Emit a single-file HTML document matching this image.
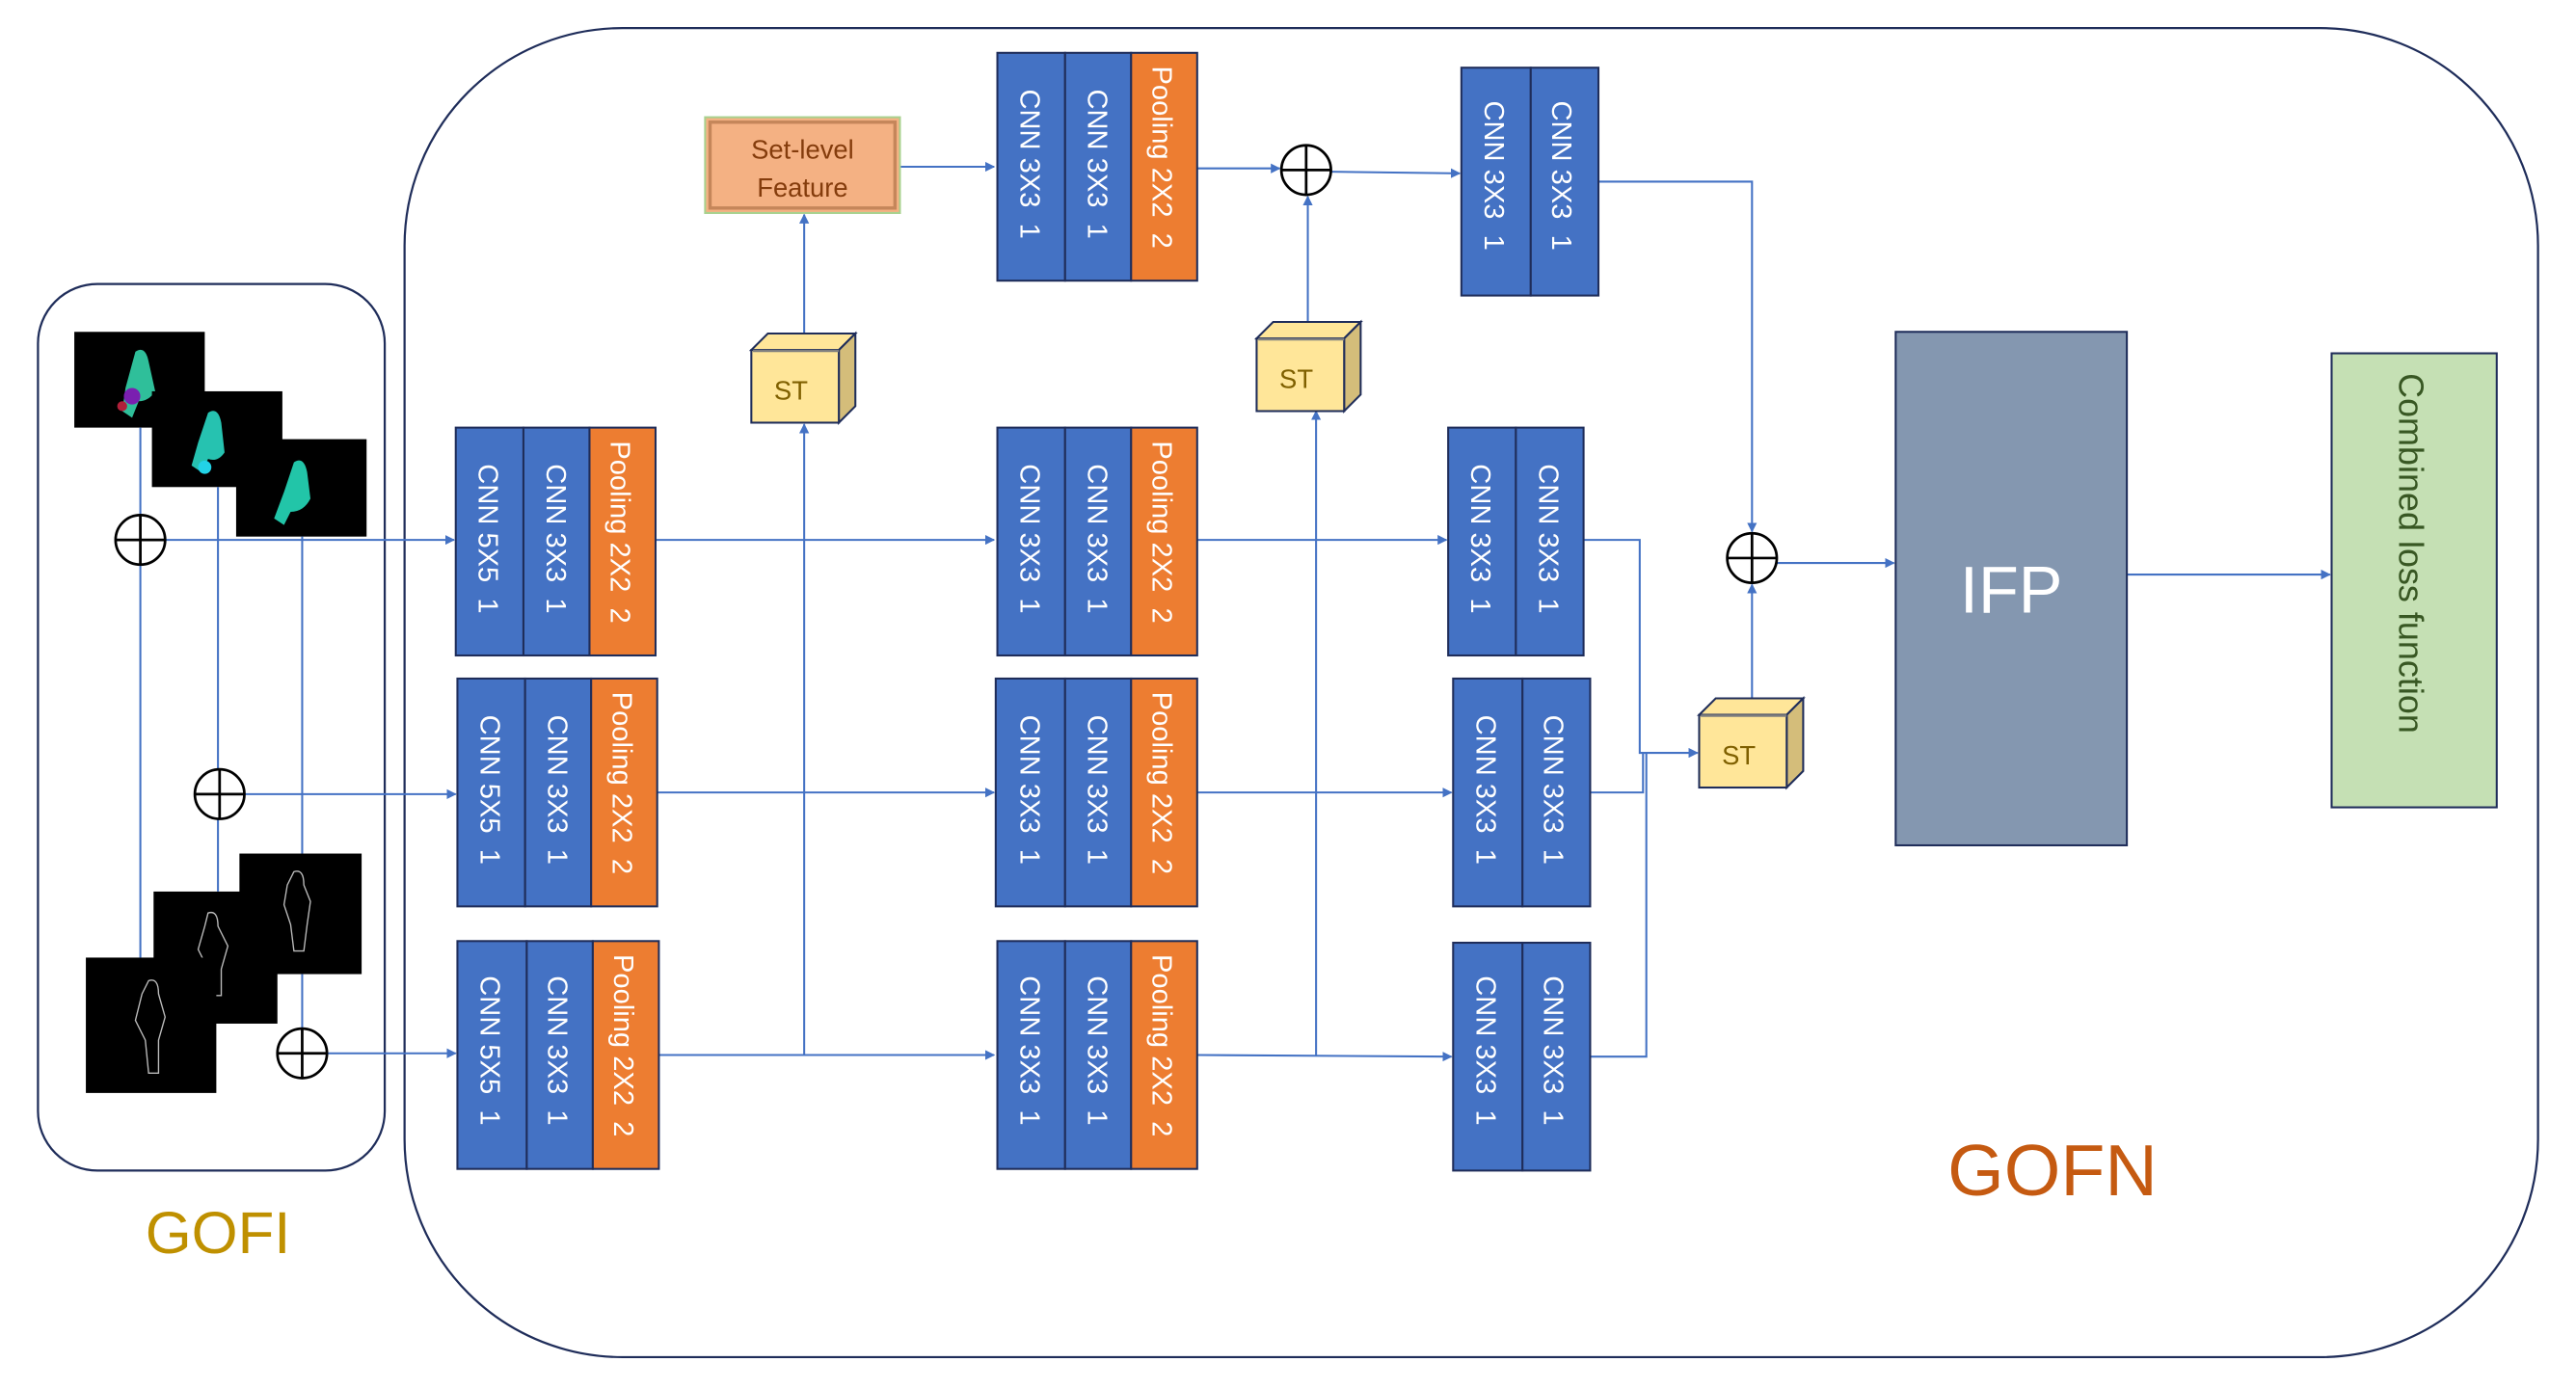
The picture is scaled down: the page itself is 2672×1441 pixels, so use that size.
<!DOCTYPE html>
<html><head><meta charset="utf-8"><style>
html,body{margin:0;padding:0;background:#fff;}
svg{display:block;}
text{font-family:"Liberation Sans",sans-serif;white-space:pre;}
</style></head><body>
<svg width="2672" height="1441" viewBox="0 0 1560 841.3" preserveAspectRatio="none" xmlns="http://www.w3.org/2000/svg">
<defs>
<marker id="a" viewBox="0 0 10 10" refX="9" refY="5" markerWidth="5" markerHeight="5" orient="auto"><path d="M0,0 L10,5 L0,10 z" fill="#4472c4"/></marker>
<g id="cube">
  <polygon points="0,10 10,0 63,0 53,10" fill="#ffe699" stroke="#1f2d5a" stroke-width="1.2"/>
  <polygon points="53,10 63,0 63,44 53,54" fill="#d4bd7a" stroke="#1f2d5a" stroke-width="1.2"/>
  <rect x="0" y="10" width="53" height="44" fill="#ffe699" stroke="#1f2d5a" stroke-width="1.2"/>
  <line x1="1" y1="10.5" x2="53" y2="10.5" stroke="#7f7f7f" stroke-width="1.5"/>
  <text x="24" y="40" font-size="16" fill="#7f6000" text-anchor="middle">ST</text>
</g>
</defs>

<rect x="245" y="17" width="1292" height="805" rx="132" ry="132" fill="none" stroke="#1f2d5a" stroke-width="1.3"/>
<rect x="23" y="172" width="210" height="537" rx="36" ry="36" fill="none" stroke="#1f2d5a" stroke-width="1.3"/>
<text x="132" y="759" font-size="36" fill="#bf9000" text-anchor="middle">GOFI</text>
<text x="1243" y="724" font-size="44" fill="#c55a11" text-anchor="middle">GOFN</text>

<rect x="45" y="201" width="79" height="58" fill="#000"/>
<path d="M82,213 q6,-4 8,6 l4,18 q-4,6 -10,6 l-4,10 -6,-4 2,-14z" fill="#2fbf9a"/>
<circle cx="80" cy="240" r="5" fill="#7a1fb0"/><circle cx="74" cy="246" r="3" fill="#b0203a"/>
<rect x="92" y="237" width="79" height="58" fill="#000"/>
<path d="M126,250 q6,-4 8,6 l2,18 q-4,6 -10,4 l-4,8 -6,-4 4,-14z" fill="#26c2b0"/>
<circle cx="124" cy="283" r="4" fill="#22d3e6"/>
<rect x="143" y="266" width="79" height="59" fill="#000"/>
<path d="M178,280 q6,-4 8,6 l2,16 q-4,8 -12,8 l-4,8 -6,-4 6,-16z" fill="#22c5a8"/>
<rect x="145" y="517" width="74" height="73" fill="#000"/>
<path d="M178,528 q6,-2 6,8 l4,10 -2,14 -2,16 h-6 l-2,-16 -4,-12 2,-12z" fill="none" stroke="#bbb" stroke-width="0.8"/>
<rect x="93" y="540" width="75" height="80" fill="#000"/>
<path d="M126,553 q6,-2 6,8 l6,12 -4,14 0,16 h-6 l-2,-16 -6,-12 4,-14z" fill="none" stroke="#bbb" stroke-width="0.8"/>
<rect x="52" y="580" width="79" height="82" fill="#000"/>
<path d="M90,594 q6,-2 6,8 l4,14 -4,14 0,20 h-6 l-2,-20 -6,-12 4,-16z" fill="none" stroke="#bbb" stroke-width="0.8"/>

<g stroke="#4472c4" stroke-width="1.2" fill="none">
<line x1="85" y1="259" x2="85" y2="580"/>
<line x1="132" y1="295" x2="132" y2="540"/>
<line x1="183" y1="325" x2="183" y2="517"/>
<line x1="183" y1="590" x2="183" y2="623"/>
<line x1="100" y1="327" x2="275" y2="327" marker-end="url(#a)"/>
<line x1="148" y1="481" x2="276" y2="481" marker-end="url(#a)"/>
<line x1="198" y1="638" x2="276" y2="638" marker-end="url(#a)"/>
</g>

<g stroke="#4472c4" stroke-width="1.2" fill="none">
<line x1="397" y1="327" x2="602" y2="327" marker-end="url(#a)"/>
<line x1="398" y1="480" x2="602" y2="480" marker-end="url(#a)"/>
<line x1="399" y1="639" x2="602" y2="639" marker-end="url(#a)"/>
<line x1="725" y1="327" x2="876" y2="327" marker-end="url(#a)"/>
<line x1="725" y1="480" x2="879" y2="480" marker-end="url(#a)"/>
<line x1="725" y1="639" x2="879" y2="640" marker-end="url(#a)"/>
<polyline points="959,327 993,327 993,456 1028,456" marker-end="url(#a)"/>
<polyline points="963,480 995,480 995,456"/>
<polyline points="963,640 997,640 997,456"/>
<line x1="487" y1="639" x2="487" y2="257" marker-end="url(#a)"/>
<line x1="487" y1="202" x2="487" y2="130" marker-end="url(#a)"/>
<line x1="545" y1="101" x2="602" y2="101" marker-end="url(#a)"/>
<line x1="725" y1="102" x2="775" y2="102" marker-end="url(#a)"/>
<line x1="806" y1="104" x2="884" y2="105" marker-end="url(#a)"/>
<line x1="797" y1="639" x2="797" y2="249" marker-end="url(#a)"/>
<line x1="792" y1="195" x2="792" y2="119" marker-end="url(#a)"/>
<polyline points="968,110 1061,110 1061,322" marker-end="url(#a)"/>
<line x1="1061" y1="423" x2="1061" y2="354" marker-end="url(#a)"/>
<line x1="1076" y1="341" x2="1147" y2="341" marker-end="url(#a)"/>
<line x1="1288" y1="348" x2="1411" y2="348" marker-end="url(#a)"/>
</g>

<g stroke="#000" stroke-width="1.6" fill="#fff">
<circle cx="85" cy="327" r="15"/><path d="M70,327 H100 M85,312 V342"/>
<circle cx="133" cy="481" r="15"/><path d="M118,481 H148 M133,466 V496"/>
<circle cx="183" cy="638" r="15"/><path d="M168,638 H198 M183,623 V653"/>
<circle cx="791" cy="103" r="15"/><path d="M776,103 H806 M791,88 V118"/>
<circle cx="1061" cy="338" r="15"/><path d="M1046,338 H1076 M1061,323 V353"/>
</g>

<g stroke="#1f2d5a" stroke-width="1.2">
<rect x="276" y="259" width="41" height="138" fill="#4472c4"/><rect x="317" y="259" width="40" height="138" fill="#4472c4"/><rect x="357" y="259" width="40" height="138" fill="#ed7d31"/>
<rect x="277" y="411" width="41" height="138" fill="#4472c4"/><rect x="318" y="411" width="40" height="138" fill="#4472c4"/><rect x="358" y="411" width="40" height="138" fill="#ed7d31"/>
<rect x="277" y="570" width="42" height="138" fill="#4472c4"/><rect x="319" y="570" width="40" height="138" fill="#4472c4"/><rect x="359" y="570" width="40" height="138" fill="#ed7d31"/>
<rect x="604" y="32" width="41" height="138" fill="#4472c4"/><rect x="645" y="32" width="40" height="138" fill="#4472c4"/><rect x="685" y="32" width="40" height="138" fill="#ed7d31"/>
<rect x="604" y="259" width="41" height="138" fill="#4472c4"/><rect x="645" y="259" width="40" height="138" fill="#4472c4"/><rect x="685" y="259" width="40" height="138" fill="#ed7d31"/>
<rect x="603" y="411" width="42" height="138" fill="#4472c4"/><rect x="645" y="411" width="40" height="138" fill="#4472c4"/><rect x="685" y="411" width="40" height="138" fill="#ed7d31"/>
<rect x="604" y="570" width="41" height="138" fill="#4472c4"/><rect x="645" y="570" width="40" height="138" fill="#4472c4"/><rect x="685" y="570" width="40" height="138" fill="#ed7d31"/>
<rect x="885" y="41" width="42" height="138" fill="#4472c4"/><rect x="927" y="41" width="41" height="138" fill="#4472c4"/>
<rect x="877" y="259" width="41" height="138" fill="#4472c4"/><rect x="918" y="259" width="41" height="138" fill="#4472c4"/>
<rect x="880" y="411" width="42" height="138" fill="#4472c4"/><rect x="922" y="411" width="41" height="138" fill="#4472c4"/>
<rect x="880" y="571" width="42" height="138" fill="#4472c4"/><rect x="922" y="571" width="41" height="138" fill="#4472c4"/>
</g>

<g font-size="17" fill="#fff">
<text transform="translate(290,281) rotate(90)">CNN 5X5  1</text>
<text transform="translate(331,281) rotate(90)">CNN 3X3  1</text>
<text transform="translate(370,267) rotate(90)">Pooling 2X2  2</text>
<text transform="translate(291,433) rotate(90)">CNN 5X5  1</text>
<text transform="translate(332,433) rotate(90)">CNN 3X3  1</text>
<text transform="translate(371,419) rotate(90)">Pooling 2X2  2</text>
<text transform="translate(291,591) rotate(90)">CNN 5X5  1</text>
<text transform="translate(332,591) rotate(90)">CNN 3X3  1</text>
<text transform="translate(372,578) rotate(90)">Pooling 2X2  2</text>
<text transform="translate(618,54) rotate(90)">CNN 3X3  1</text>
<text transform="translate(659,54) rotate(90)">CNN 3X3  1</text>
<text transform="translate(698,40) rotate(90)">Pooling 2X2  2</text>
<text transform="translate(618,281) rotate(90)">CNN 3X3  1</text>
<text transform="translate(659,281) rotate(90)">CNN 3X3  1</text>
<text transform="translate(698,267) rotate(90)">Pooling 2X2  2</text>
<text transform="translate(618,433) rotate(90)">CNN 3X3  1</text>
<text transform="translate(659,433) rotate(90)">CNN 3X3  1</text>
<text transform="translate(698,419) rotate(90)">Pooling 2X2  2</text>
<text transform="translate(618,591) rotate(90)">CNN 3X3  1</text>
<text transform="translate(659,591) rotate(90)">CNN 3X3  1</text>
<text transform="translate(698,578) rotate(90)">Pooling 2X2  2</text>
<text transform="translate(899,61) rotate(90)">CNN 3X3  1</text>
<text transform="translate(940,61) rotate(90)">CNN 3X3  1</text>
<text transform="translate(891,281) rotate(90)">CNN 3X3  1</text>
<text transform="translate(932,281) rotate(90)">CNN 3X3  1</text>
<text transform="translate(894,433) rotate(90)">CNN 3X3  1</text>
<text transform="translate(935,433) rotate(90)">CNN 3X3  1</text>
<text transform="translate(894,591) rotate(90)">CNN 3X3  1</text>
<text transform="translate(935,591) rotate(90)">CNN 3X3  1</text>
</g>

<rect x="427" y="71" width="118" height="58" fill="#f4b183" stroke="#a9d18e" stroke-width="1.2"/>
<rect x="430" y="74" width="112" height="52" fill="none" stroke="#c5865a" stroke-width="2"/>
<text x="486" y="96" font-size="16" fill="#843c0c" text-anchor="middle">Set-level</text>
<text x="486" y="119" font-size="16" fill="#843c0c" text-anchor="middle">Feature</text>

<use href="#cube" x="455" y="202"/>
<use href="#cube" x="761" y="195"/>
<use href="#cube" x="1029" y="423"/>

<rect x="1148" y="201" width="140" height="311" fill="#8497b0" stroke="#1f2d5a" stroke-width="1.2"/>
<text x="1218" y="371" font-size="40" fill="#fff" text-anchor="middle">IFP</text>

<rect x="1412" y="214" width="100" height="275" fill="#c5e0b4" stroke="#1f2d5a" stroke-width="1.2"/>
<text transform="translate(1453,226) rotate(90)" font-size="21" fill="#385723">Combined loss function</text>
</svg>
</body></html>
